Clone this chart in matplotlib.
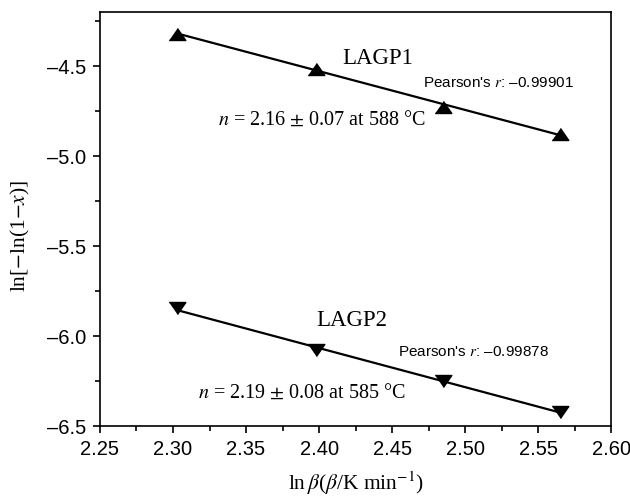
import matplotlib.pyplot as plt
import numpy as np
from matplotlib.ticker import MultipleLocator, FuncFormatter

plt.rcParams['font.family'] = ['Liberation Sans', 'DejaVu Sans']
plt.rcParams['mathtext.fontset'] = 'stix'

# ln(beta) for heating rates 10, 11, 12, 13 K/min
ln_beta = [2.303, 2.398, 2.485, 2.565]
lagp1 = [-4.32, -4.515, -4.73, -4.875]
lagp2 = [-5.846, -6.08, -6.25, -6.42]

serif = 'Liberation Serif'

fig = plt.figure(figsize=(6.3, 4.96), dpi=100)
ax = fig.add_axes([0.1587, 0.1411, 0.8115, 0.8347])

up = [(-1, -0.72), (1, -0.72), (0, 0.72)]
down = [(-1, 0.72), (1, 0.72), (0, -0.72)]

for y, m in [(lagp1, up), (lagp2, down)]:
    k, b = np.polyfit(ln_beta, y, 1)
    xx = np.array([ln_beta[0], ln_beta[-1]])
    ax.plot(xx, k * xx + b, color='black', lw=1.6, zorder=2)
    ax.plot(ln_beta, y, linestyle='none', marker=m, ms=12, color='black', zorder=3)

ax.set_xlim(2.25, 2.60)
ax.set_ylim(-6.5, -4.2)
ax.xaxis.set_major_locator(MultipleLocator(0.05))
ax.xaxis.set_minor_locator(MultipleLocator(0.025))
ax.yaxis.set_major_locator(MultipleLocator(0.5))
ax.yaxis.set_minor_locator(MultipleLocator(0.25))
ax.xaxis.set_major_formatter(FuncFormatter(lambda v, p: '%.2f' % v))
ax.yaxis.set_major_formatter(FuncFormatter(lambda v, p: ('%.1f' % v).replace('-', '\u2013')))
ax.tick_params(which='major', direction='out', length=5, width=1.2, labelsize=14.5, pad=5)
ax.tick_params(which='minor', direction='out', length=3.5, width=1.2)
ax.tick_params(which='both', top=False, right=False)
for s in ax.spines.values():
    s.set_linewidth(1.2)

ax.set_xlabel(r'ln$\,\beta$($\beta$/K min$^{-1}$)', family=serif, fontsize=15.5)
ax.set_ylabel(r'ln[$-$ln(1$-$$x$)]', family=serif, fontsize=15.5)
ax.xaxis.label.set_va('center')
ax.yaxis.label.set_va('center')
ax.xaxis.set_label_coords(0.5, -0.139)
ax.yaxis.set_label_coords(-0.155, 0.459)

ax.text(2.440, -4.457, 'LAGP1', family=serif, fontsize=16.5, ha='center', va='center')
ax.text(2.523, -4.596, "Pearson's $r$: \u20130.99901", fontsize=11, ha='center', va='center')
ax.text(2.3308, -4.802, r'$n$ = 2.16 $\pm$ 0.07 at 588 °C', family=serif, fontsize=14.5,
        ha='left', va='center')

ax.text(2.4226, -5.913, 'LAGP2', family=serif, fontsize=16.5, ha='center', va='center')
ax.text(2.5058, -6.09, "Pearson's $r$: \u20130.99878", fontsize=11, ha='center', va='center')
ax.text(2.3171, -6.318, r'$n$ = 2.19 $\pm$ 0.08 at 585 °C', family=serif, fontsize=14.5,
        ha='left', va='center')

fig.savefig('out.png', dpi=100)
